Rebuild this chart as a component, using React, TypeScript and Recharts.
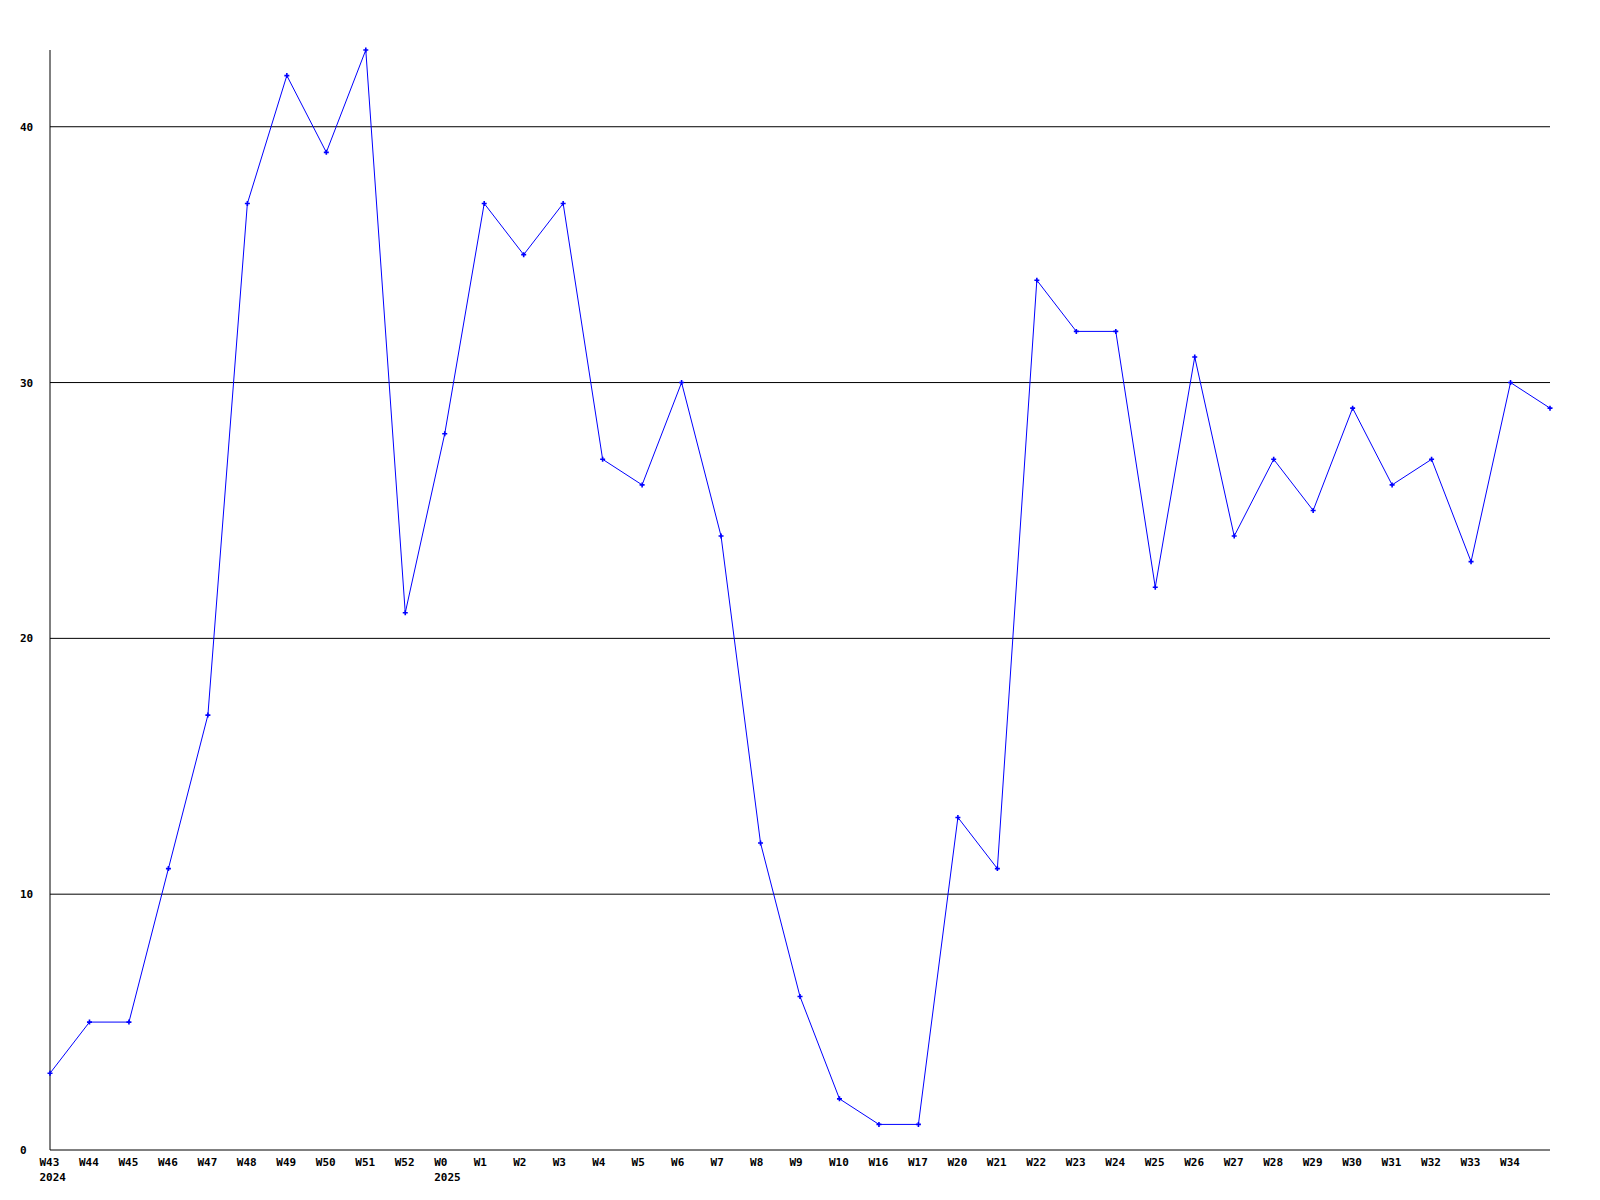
import { Line, LineChart, ReferenceLine, XAxis, YAxis } from "recharts";

const weeks = [
  "W43", "W44", "W45", "W46", "W47", "W48", "W49", "W50", "W51", "W52",
  "W0", "W1", "W2", "W3", "W4", "W5", "W6", "W7", "W8", "W9", "W10",
  "W16", "W17", "W20", "W21", "W22", "W23", "W24", "W25", "W26", "W27",
  "W28", "W29", "W30", "W31", "W32", "W33", "W34", "W35",
];

const counts = [
  3, 5, 5, 11, 17, 37, 42, 39, 43, 21,
  28, 37, 35, 37, 27, 26, 30, 24, 12, 6, 2,
  1, 1, 13, 11, 34, 32, 32, 22, 31, 24,
  27, 25, 29, 26, 27, 23, 30, 29,
];

// year shown under the first week of each year
const yearLabels: Record<string, string> = { W43: "2024", W0: "2025" };
// the last week has no label in the reference
const hiddenLabels = ["W35"];

const yTicks = [0, 10, 20, 30, 40];
const gridValues = [10, 20, 30, 40];

const data = weeks.map((week, i) => ({ week, count: counts[i] }));

const FONT = "'DejaVu Sans Mono', 'Liberation Mono', monospace";

function WeekTick({ x, y, payload }: { x?: number; y?: number; payload?: { value: string } }) {
  const value = payload?.value ?? "";
  if (hiddenLabels.includes(value)) return null;
  const year = yearLabels[value];
  const left = (x ?? 0) - 10.5;
  return (
    <g>
      <text x={left} y={(y ?? 0) + 8} textAnchor="start" fontFamily={FONT} fontWeight="bold" fontSize={11} fill="#000">
        {value}
      </text>
      {year && (
        <text x={left} y={(y ?? 0) + 23} textAnchor="start" fontFamily={FONT} fontWeight="bold" fontSize={11} fill="#000">
          {year}
        </text>
      )}
    </g>
  );
}

function CountTick({ y, payload }: { y?: number; payload?: { value: number } }) {
  return (
    <text x={20} y={(y ?? 0) + 4} textAnchor="start" fontFamily={FONT} fontWeight="bold" fontSize={11} fill="#000">
      {payload?.value}
    </text>
  );
}

function CrossDot({ cx, cy }: { cx?: number; cy?: number }) {
  if (cx == null || cy == null) return null;
  return (
    <path
      d={`M${cx - 2.5},${cy} L${cx + 2.5},${cy} M${cx},${cy - 2.5} L${cx},${cy + 2.5}`}
      stroke="#0000ff"
      strokeWidth={1.6}
    />
  );
}

export default function App() {
  return (
    <div style={{ position: "absolute", left: 0, top: 0, background: "#fff" }}>
      <LineChart width={1600} height={1200} data={data} margin={{ top: 50, right: 50, bottom: 0, left: 0 }}>
        <XAxis
          dataKey="week"
          height={50}
          interval={0}
          tickLine={false}
          axisLine={{ stroke: "#000" }}
          tick={<WeekTick />}
        />
        <YAxis
          width={50}
          domain={[0, 43]}
          ticks={yTicks}
          tickLine={false}
          axisLine={{ stroke: "#000" }}
          tick={<CountTick />}
        />
        {gridValues.map((v) => (
          <ReferenceLine key={v} y={v} stroke="#000" strokeWidth={1} />
        ))}
        <Line
          type="linear"
          dataKey="count"
          stroke="#0000ff"
          strokeWidth={1}
          dot={<CrossDot />}
          activeDot={false}
          isAnimationActive={false}
        />
      </LineChart>
    </div>
  );
}
